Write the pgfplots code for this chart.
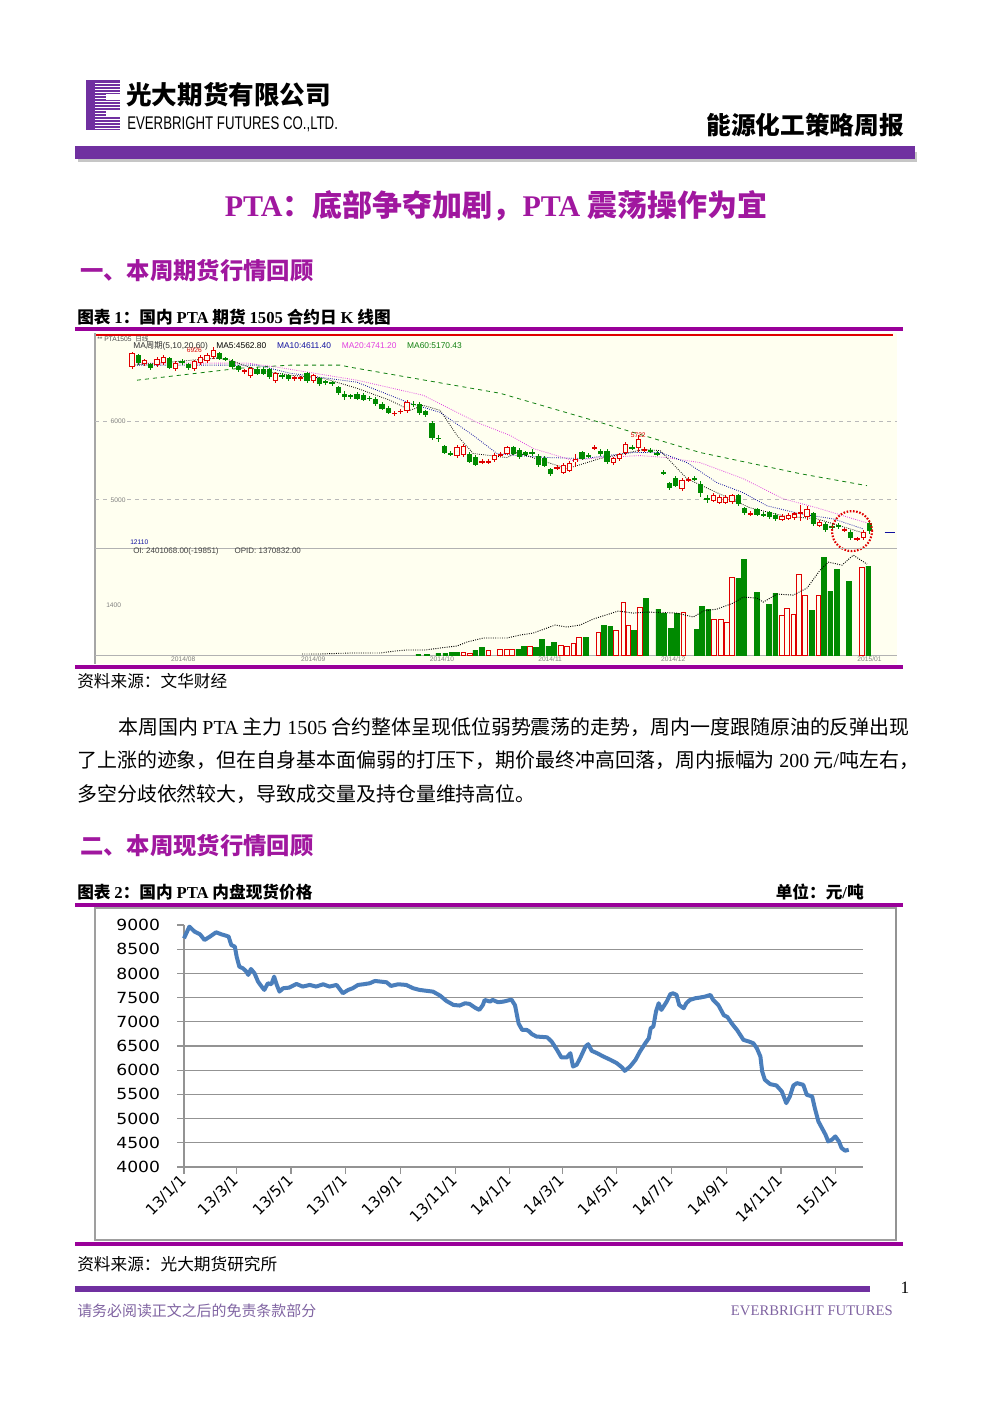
\documentclass[border=0pt]{standalone}
\usepackage{fontspec}
\setmainfont{Liberation Serif}
\setsansfont{Liberation Sans}
\newfontfamily\cjk{Noto Sans CJK SC}
\newfontfamily\tickfont{DejaVu Sans}
\usepackage{graphicx}
\usepackage{pgfplots}
\usepackage{pgfplotstable}
\pgfplotsset{compat=1.18}
\definecolor{kgreen}{HTML}{008A00}
\definecolor{kred}{HTML}{E00000}
\definecolor{ivory}{HTML}{FFFFF0}
\definecolor{ebpurple}{HTML}{7030A0}
\definecolor{mag}{HTML}{990099}
\definecolor{titlemag}{HTML}{A0179F}
\definecolor{linecol}{HTML}{4A7EBB}
\definecolor{footcol}{HTML}{8064A2}
\definecolor{maten}{HTML}{1010A0}
\definecolor{matwenty}{HTML}{E040E0}
\definecolor{masixty}{HTML}{108010}
\newcommand{\lat}[1]{{\rmfamily #1}}
\newcommand{\fs}[1]{\fontsize{#1}{#1}\selectfont}
\pgfplotsset{candle/.style={only marks, mark=*, mark size=0pt, mark options={draw=none, fill=none}, forget plot,
  /pgfplots/error bars/y dir=both, /pgfplots/error bars/y explicit, /pgfplots/error bars/error mark=none,
  /pgfplots/error bars/error bar style={draw=#1}},
  candle/.default=black}

% ---------- K-line data (index, mid price, half body, half wick) ----------
\pgfplotstableread{
k m b w
2 6795 50 70
4 6705 25 45
7 6744 60 80
9 6756 15 40
10 6705 25 45
15 6833 35 55
16 6795 10 30
17 6731 40 60
18 6679 25 45
21 6641 30 50
22 6641 30 50
23 6615 50 70
25 6577 15 40
26 6564 25 45
29 6564 50 70
31 6513 40 60
32 6500 10 30
33 6487 10 30
34 6397 40 60
35 6333 20 60
36 6321 10 30
37 6321 30 50
38 6308 30 50
39 6295 10 30
40 6256 35 55
41 6192 30 50
42 6141 30 50
46 6218 10 40
47 6167 60 80
48 6103 25 45
49 5885 100 120
50 5782 10 50
51 5641 40 60
52 5590 10 30
55 5538 50 70
56 5500 50 70
62 5628 40 60
63 5590 50 70
64 5590 15 35
65 5603 10 40
66 5500 60 80
67 5487 50 70
68 5359 30 50
73 5564 40 60
74 5564 10 30
76 5603 15 50
77 5551 70 100
81 5667 10 30
84 5628 10 30
85 5590 10 30
86 5346 10 30
87 5180 30 50
88 5231 50 70
91 5269 10 30
92 5141 60 100
93 5013 15 50
98 5000 60 80
99 4859 30 50
101 4846 35 55
102 4808 10 30
103 4808 30 50
104 4782 30 50
110 4756 70 90
112 4654 40 60
113 4654 10 40
114 4667 10 40
116 4551 40 60
119 4654 50 90
}\greenK
\pgfplotstableread{
k m b w
1 6782 90 110
3 6756 25 45
5 6756 40 60
6 6782 40 60
8 6705 40 60
11 6718 50 70
12 6782 40 60
13 6808 40 60
14 6872 45 80
19 6641 10 30
20 6628 50 70
24 6564 50 70
27 6551 10 30
28 6551 10 30
30 6551 40 60
43 6103 10 30
44 6128 10 30
45 6192 60 80
53 5615 60 80
54 5628 60 80
57 5487 10 30
58 5487 10 30
59 5538 35 55
60 5577 10 30
61 5628 40 60
69 5410 10 30
70 5397 50 70
71 5423 50 70
72 5500 15 80
75 5667 10 30
78 5500 30 50
79 5551 30 50
80 5654 60 80
82 5718 60 110
83 5641 10 30
89 5192 60 80
90 5256 10 30
94 5026 40 60
95 5000 40 60
96 5000 40 60
97 5013 45 65
100 4821 10 30
105 4769 25 45
106 4782 25 45
107 4795 30 50
108 4833 10 100
109 4833 50 90
111 4692 25 45
115 4615 10 30
117 4500 10 30
118 4551 40 60
}\redK
\pgfplotstableread{
k v
46.8 28
48.2 28
50.0 56
51.1 56
52.2 84
53.0 84
55.9 140
57.0 224
62.8 168
63.7 252
65.6 224
66.6 448
67.6 252
68.5 364
73.6 504
76.5 840
77.5 812
81.3 700
83.2 1596
85.2 1288
86.1 1176
87.2 756
88.2 1176
91.4 728
92.2 1372
93.2 1288
98.0 2156
98.9 2688
101.0 1764
102.9 1428
103.9 1736
109.8 1260
111.7 2744
112.7 1792
113.8 2408
115.7 2072
118.8 2492
}\greenV
\pgfplotstableread{
k v
54.0 84
55.1 56
58.0 140
59.9 168
61.0 168
61.8 168
64.7 252
69.6 280
70.6 252
71.6 336
72.5 504
75.6 644
78.4 700
79.6 1484
80.4 840
82.3 1344
89.2 1204
94.1 1008
95.2 1008
96.2 924
97.0 2184
105.0 1120
105.8 1316
106.8 1148
107.7 2268
108.7 1680
110.8 1680
117.8 2464
}\redV
% ---------- spot price data (days since 2013-01-01, yuan/ton) ----------
\pgfplotstableread{
d p
0 8725
6 8966
12 8862
18 8807
23 8690
29 8760
36 8850
42 8807
47 8780
50 8760
53 8587
57 8553
59 8347
62 8140
66 8106
70 8037
72 7968
75 8092
79 8003
83 7830
87 7728
90 7659
94 7796
98 7776
101 7934
104 7762
107 7624
111 7693
118 7707
126 7783
133 7728
141 7762
148 7728
156 7776
163 7728
171 7762
178 7590
184 7659
189 7693
195 7762
201 7776
208 7796
214 7844
221 7830
227 7817
232 7741
240 7776
249 7762
257 7693
264 7659
270 7645
279 7624
287 7542
294 7432
302 7349
309 7336
315 7384
320 7370
326 7294
331 7246
335 7349
337 7452
343 7418
346 7452
352 7404
358 7418
367 7459
371 7342
375 6964
379 6833
384 6833
387 6800
390 6745
395 6696
407 6680
412 6593
418 6421
423 6263
429 6263
433 6352
436 6077
440 6111
444 6249
450 6490
453 6538
457 6400
463 6352
470 6283
478 6214
485 6146
491 6056
494 5987
500 6077
506 6214
511 6386
517 6558
521 6662
523 6868
526 6902
529 7212
532 7384
535 7246
541 7418
545 7569
548 7590
552 7556
555 7349
560 7280
563 7384
567 7452
573 7487
578 7500
584 7521
590 7556
593 7452
599 7342
605 7136
609 7100
614 6964
620 6826
627 6627
633 6593
638 6558
642 6455
646 6283
648 5973
651 5802
657 5712
664 5685
670 5561
675 5320
679 5458
683 5685
687 5733
694 5699
698 5492
704 5458
707 5217
711 4942
715 4804
719 4667
722 4529
726 4563
730 4632
734 4529
737 4392
741 4337
745 4357
}\spot

\begin{document}
\begin{tikzpicture}[x=0.75pt,y=0.75pt]
% page
\fill[white] (0,0) rectangle (992,-1403);
\coordinate (kup) at (95,-337);
\coordinate (klow) at (95,-548);
\coordinate (spotsw) at (184,-1167);

% ---------- header ----------
\fill[ebpurple] (86,-80) rectangle (120,-130);
\foreach \yy in {83,86,...,128} {\draw[white, line width=0.5pt] (95,-\yy) -- (120,-\yy);}
\fill[white] (106,-94) rectangle (120,-100);
\fill[white] (106,-110) rectangle (120,-116);
\node[anchor=west, inner sep=0] at (126,-95) {\cjk\bfseries\fs{19.2pt}光大期货有限公司};
\node[anchor=west, inner sep=0] at (127,-124) {\resizebox{158pt}{9.6pt}{\sffamily EVERBRIGHT FUTURES CO.,LTD.}};
\node[anchor=east, inner sep=0] at (904,-125) {\cjk\bfseries\fs{18.5pt}能源化工策略周报};
\fill[gray!45] (78,-152) rectangle (917,-162);
\fill[ebpurple] (75,-146) rectangle (915,-159);

% ---------- title & section 1 ----------
\node[text=titlemag, inner sep=0] at (496,-206) {\cjk\bfseries\fs{22.5pt}\lat{PTA}：底部争夺加剧，\lat{PTA} 震荡操作为宜};
\node[anchor=west, text=titlemag, inner sep=0] at (80,-271) {\cjk\bfseries\fs{17.5pt}一、本周期货行情回顾};
\node[anchor=west, inner sep=0] at (77,-317) {\cjk\bfseries\fs{12.5pt}图表 \lat{1}：国内 \lat{PTA} 期货 \lat{1505} 合约日 \lat{K} 线图};
\draw[mag, line width=3pt] (75,-329) -- (903,-329);

% ---------- chart 1 frame ----------
\fill[ivory] (95,-333) rectangle (897,-664);
\draw[kred, line width=0.8pt] (95,-335) -- (893,-335);
\draw[gray!70, line width=0.8pt] (95,-333) -- (95,-664);

% upper price panel
\begin{axis}[at={(kup)}, anchor=north west, scale only axis,
  width=601.5pt, height=156.75pt,
  xmin=-4.92, xmax=123.4, ymin=4410, ymax=7077,
  axis line style={draw=none}, xtick=\empty, ytick={5000,6000}, ymajorgrids,
  grid style={dashed, gray!55, line width=0.5pt}, major tick length=0pt,
  yticklabel style={anchor=west, xshift=11pt, font=\sffamily\fs{5pt}, text=gray, fill=ivory, inner sep=0.6pt},
  /pgf/number format/assume math mode=true, /pgf/number format/set thousands separator={},
  clip=false]
  % moving averages
  \addplot[masixty, dashed, line width=0.6pt] coordinates {(1.8,6526)(18.3,6679)(26.3,6718)(34.3,6718)(35.9,6692)(59.9,6359)(75.9,5987)(91.9,5603)(107.9,5333)(118.6,5180)};
  \addplot[matwenty, densely dotted, line width=0.6pt] coordinates {(1.8,6744)(19.4,6744)(24.2,6692)(37,6526)(47.6,6333)(56.2,5987)(61.5,5821)(65.2,5654)(71.6,5500)(75.9,5538)(82.3,5564)(86.6,5538)(91.9,5474)(98.8,5269)(105.2,5013)(110.6,4897)(115.9,4769)(118.6,4705)};
  \addplot[maten, densely dotted, line width=0.6pt] coordinates {(1.8,6718)(21,6718)(26.3,6615)(37,6500)(45.5,6231)(50.3,6115)(55.6,5821)(59.4,5590)(62.6,5564)(67.9,5538)(73.2,5526)(81.2,5603)(85.5,5603)(89.8,5474)(94.6,5218)(98.8,5090)(102.6,4923)(107.9,4821)(113.2,4756)(118,4628)};
  \addplot[black, densely dotted, line width=0.6pt] coordinates {(1.2,6718)(14.6,6808)(16.7,6782)(21,6654)(26.3,6590)(31.6,6551)(37,6423)(42.3,6269)(45.5,6141)(47.6,6205)(50.3,6141)(53,5821)(55.6,5590)(61,5538)(62.6,5603)(70.6,5397)(75.9,5526)(82.8,5641)(85.5,5628)(89.8,5269)(94.6,5090)(99.9,4897)(105.2,4795)(110.6,4756)(115.9,4628)(118,4577)};
  % green candles
  \addplot[candle=kgreen, /pgfplots/error bars/error bar style={line width=0.7pt}] table[x=k, y=m, y error=w] {\greenK};
  \addplot[candle=kgreen, /pgfplots/error bars/error bar style={line width=4.1pt}] table[x=k, y=m, y error=b] {\greenK};
  % red candles (hollow)
  \addplot[candle=kred, /pgfplots/error bars/error bar style={line width=0.7pt}] table[x=k, y=m, y error=w] {\redK};
  \addplot[candle=kred, /pgfplots/error bars/error bar style={line width=4.1pt}] table[x=k, y=m, y error=b] {\redK};
  \addplot[candle=ivory, /pgfplots/error bars/error bar style={line width=2.6pt}] table[x=k, y=m, y error expr={max(\thisrow{b}-13,0)}] {\redK};
  % last price marker
  \addplot[maten, line width=0.8pt] coordinates {(121.4,4577)(123.0,4577)};
  % annotations
  \draw[kred, line width=1.6pt, dash pattern=on 1.2pt off 1.2pt] (axis cs:116.2,4600) circle [radius=15pt];
  \node[text=kred, font=\sffamily\fs{5pt}, anchor=east, inner sep=0] at (axis cs:12.2,6905) {6926};
  \node[text=kred, font=\sffamily\fs{5pt}, inner sep=0] at (axis cs:82,5830) {5722};
\end{axis}

% lower volume panel
\begin{axis}[at={(klow)}, anchor=north west, scale only axis,
  width=601.5pt, height=80.25pt,
  xmin=-4.92, xmax=123.4, ymin=0, ymax=3000,
  separate axis lines, x axis line style={gray!60, line width=0.6pt}, y axis line style={draw=none},
  ytick=\empty, xtick={9.2,30,50.6,67.9,87.6,119},
  xticklabels={2014/08,2014/09,2014/10,2014/11,2014/12,2015/01},
  major tick length=0pt,
  xticklabel style={font=\sffamily\fs{5pt}, text=gray, inner sep=1pt},
  clip=false]
  \addplot[ybar, bar shift=0pt, bar width=0.75, fill=kgreen, draw=kgreen, line width=0.3pt] table[x=k, y=v] {\greenV};
  \addplot[ybar, bar shift=0pt, bar width=0.75, fill=ivory, draw=kred, line width=0.6pt] table[x=k, y=v] {\redV};
  \addplot[black, densely dotted, line width=0.7pt] coordinates {(28.2,28)(31.1,28)(35.9,56)(40.7,56)(43.1,112)(44.7,140)(47.9,140)(50.3,196)(53,252)(54.6,364)(57.2,476)(61,476)(63.1,560)(65.2,616)(68.7,840)(70.6,784)(72.7,840)(74.8,1008)(78.8,1232)(81.2,1176)(83.4,1204)(88.2,1176)(90.8,1064)(92.4,1232)(94.6,1288)(97.2,1456)(98.8,1624)(101,1596)(102,1484)(104.2,1708)(106.8,1680)(109,1876)(111.1,2380)(112.4,2604)(114.6,2520)(116.4,2800)(118.6,2548)};
\end{axis}

% chart 1 small texts
\node[anchor=west, inner sep=0, text=black!70] at (97,-339) {\cjk\fs{5pt}\lat{\sffamily ** PTA1505\ \ }日线};
\node[anchor=west, inner sep=0] at (133,-345.5) {\sffamily\fs{6.3pt}\textcolor{black!80}{MA{\cjk\fs{6.3pt}周期}(5,10,20,60)}\quad \textcolor{black}{MA5:4562.80}\quad\ \textcolor{maten}{MA10:4611.40}\quad\ \textcolor{matwenty}{MA20:4741.20}\quad\ \textcolor{masixty}{MA60:5170.43}};
\node[anchor=west, inner sep=0, text=maten] at (130,-542) {\sffamily\fs{5pt}12110};
\node[anchor=west, inner sep=0, text=black!75] at (133,-551) {\sffamily\fs{6pt}OI: 2401068.00(-19851)\qquad OPID: 1370832.00};
\node[anchor=west, inner sep=0, text=gray] at (106,-605) {\sffamily\fs{5pt}1400};

\draw[mag, line width=3pt] (75,-667) -- (903,-667);
\node[anchor=west, inner sep=0] at (77,-681) {\cjk\fs{12.5pt}资料来源：文华财经};

% ---------- paragraph ----------
\node[anchor=west, inner sep=0] at (118,-727) {\cjk\fs{14.95pt}本周国内 \lat{PTA} 主力 \lat{1505} 合约整体呈现低位弱势震荡的走势，周内一度跟随原油的反弹出现};
\node[anchor=west, inner sep=0] at (77,-760) {\cjk\fs{14.95pt}了上涨的迹象，但在自身基本面偏弱的打压下，期价最终冲高回落，周内振幅为 \lat{200} 元\lat{/}吨左右，};
\node[anchor=west, inner sep=0] at (77,-794) {\cjk\fs{14.95pt}多空分歧依然较大，导致成交量及持仓量维持高位。};

% ---------- section 2 ----------
\node[anchor=west, text=titlemag, inner sep=0] at (80,-846) {\cjk\bfseries\fs{17.5pt}二、本周现货行情回顾};
\node[anchor=west, inner sep=0] at (77,-892) {\cjk\bfseries\fs{12.5pt}图表 \lat{2}：国内 \lat{PTA} 内盘现货价格};
\node[anchor=east, inner sep=0] at (864,-892) {\cjk\bfseries\fs{12.5pt}单位：元\lat{/}吨};
\draw[mag, line width=3pt] (75,-905) -- (903,-905);

% chart 2 frame
\draw[gray!75, line width=0.8pt] (95,-908) rectangle (896,-1240);
\draw[gray!85, line width=2pt] (896,-908) -- (896,-1240);

\begin{axis}[at={(spotsw)}, anchor=south west, scale only axis,
  width=509.25pt, height=181.5pt,
  xmin=0, xmax=761, ymin=4000, ymax=9000,
  axis x line*=bottom, axis y line*=left,
  axis line style={color=gray!85, line width=0.9pt},
  xtick={0,59,120,181,243,304,365,424,485,546,608,669,730},
  xticklabels={13/1/1,13/3/1,13/5/1,13/7/1,13/9/1,13/11/1,14/1/1,14/3/1,14/5/1,14/7/1,14/9/1,14/11/1,15/1/1},
  ytick={4500,5000,5500,6000,6500,7000,7500,8000,8500},
  extra y ticks={4000,9000}, extra y tick style={grid=none},
  ymajorgrids, grid style={color=gray!85, line width=0.9pt},
  tick align=outside, major tick length=5pt, tick style={color=gray!85, line width=0.9pt},
  ticklabel style={font=\tickfont\fs{11.5pt}},
  yticklabel style={xshift=-9pt, anchor=east, xscale=1.12},
  xticklabel style={rotate=45, anchor=east, xshift=1pt, yshift=-2pt},
  /pgf/number format/assume math mode=true, /pgf/number format/set thousands separator={},
  clip=false]
  \addplot[linecol, line width=3pt, line join=round] table[x=d, y=p] {\spot};
\end{axis}

\draw[mag, line width=3pt] (75,-1244) -- (903,-1244);
\node[anchor=west, inner sep=0] at (77,-1264) {\cjk\fs{12.5pt}资料来源：光大期货研究所};

% ---------- footer ----------
\fill[ebpurple] (75,-1286) rectangle (870,-1292);
\node[inner sep=0] at (905,-1288) {\fs{13pt}1};
\node[anchor=west, inner sep=0, text=footcol] at (77,-1311) {\cjk\fs{11.2pt}请务必阅读正文之后的免责条款部分};
\node[anchor=east, inner sep=0, text=footcol] at (893,-1311) {\fs{11pt}EVERBRIGHT FUTURES};
\end{tikzpicture}
\end{document}
